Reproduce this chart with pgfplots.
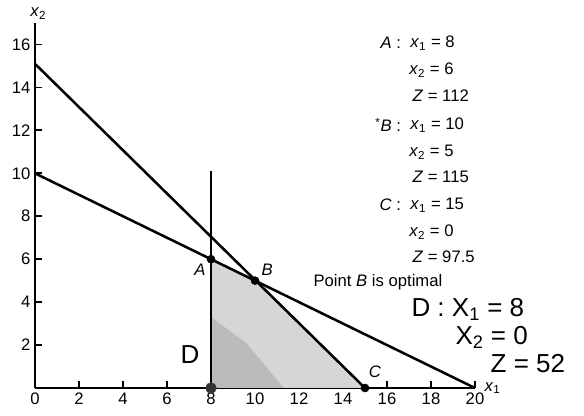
\documentclass[border=0pt]{standalone}
\usepackage{pgfplots}
\pgfplotsset{compat=1.18}
\usepackage{fontspec}
\setmainfont{Liberation Sans}
\newcommand\vx[1]{\textit{x}\textsubscript{#1}}
\newcommand\lbl{\fontsize{12.5}{14}\selectfont}
\newcommand\hand{\fontsize{19.5}{22}\selectfont}

\begin{document}
\begin{tikzpicture}
% fixed frame of the figure
\path[use as bounding box] (-26.25pt,-21pt) rectangle (411.75pt,291pt);
\begin{axis}[
  x=16.5pt, y=16.1pt,
  xmin=0, xmax=20, ymin=0, ymax=17,
  axis lines=left,
  axis line style={-, line width=1.9pt},
  xtick={0,2,...,20}, ytick={2,4,...,16},
  tick align=inside,
  major tick length=5.5pt,
  tick style={black, line width=1.4pt},
  ticklabel style={font=\lbl},
  /pgf/number format/assume math mode=true,
  clip=false,
]
% feasible region
\addplot[fill=gray!32, draw=none] coordinates {(8,0) (8,6) (10,5) (15,0)} \closedcycle;
\addplot[fill=gray!58, draw=none, opacity=0.8] coordinates {(8,0) (8,3.3) (9.6,2.1) (11.3,0)} \closedcycle;

% constraint lines
\addplot[black, line width=1.9pt] coordinates {(0,15.1) (15,0)};
\addplot[black, line width=1.9pt] coordinates {(0,10) (20,0)};
\addplot[black, line width=1.9pt] coordinates {(8,0) (8,10.1)};

% corner points
\addplot[only marks, mark=*, mark size=3pt, black] coordinates {(8,6) (10,5) (15,0)};
\addplot[only marks, mark=*, mark size=4pt, black!80] coordinates {(8,0)};

% axis names
\node[font=\lbl] at (axis cs:0.15,17.45) {\vx{2}};
\node[font=\lbl] at (axis cs:20.8,0.0) {\vx{1}};

% point labels
\node[font=\lbl\itshape] at (axis cs:7.5,5.5) {A};
\node[font=\lbl\itshape] at (axis cs:10.55,5.5) {B};
\node[font=\lbl\itshape] at (axis cs:15.45,0.75) {C};

% corner point values
\node[font=\lbl, anchor=east] at (axis cs:16.85,16.07) {\textit{A} :};
\node[font=\lbl, anchor=west] at (axis cs:16.85,16.07) {\vx{1} = 8};
\node[font=\lbl, anchor=west] at (axis cs:16.8,14.8) {\vx{2} = 6};
\node[font=\lbl, anchor=west] at (axis cs:16.95,13.64) {\textit{Z} = 112};
\node[font=\lbl, anchor=east] at (axis cs:16.85,12.25) {\textsuperscript{*}\textit{B} :};
\node[font=\lbl, anchor=west] at (axis cs:16.85,12.25) {\vx{1} = 10};
\node[font=\lbl, anchor=west] at (axis cs:16.8,10.99) {\vx{2} = 5};
\node[font=\lbl, anchor=west] at (axis cs:16.95,9.83) {\textit{Z} = 115};
\node[font=\lbl, anchor=east] at (axis cs:16.85,8.52) {\textit{C} :};
\node[font=\lbl, anchor=west] at (axis cs:16.85,8.52) {\vx{1} = 15};
\node[font=\lbl, anchor=west] at (axis cs:16.8,7.27) {\vx{2} = 0};
\node[font=\lbl, anchor=west] at (axis cs:16.95,6.1) {\textit{Z} = 97.5};
\node[font=\lbl, anchor=west] at (axis cs:12.45,4.94) {Point \textit{B} is optimal};

% point D notes
\node[font=\hand] at (axis cs:7.05,1.55) {D};
\node[font=\hand, anchor=west] at (axis cs:16.9,3.65) {D : X\textsubscript{1} = 8};
\node[font=\hand, anchor=west] at (axis cs:18.9,2.35) {X\textsubscript{2} = 0};
\node[font=\hand, anchor=west] at (axis cs:20.5,1.15) {Z = 52};
\end{axis}
\end{tikzpicture}
\end{document}
